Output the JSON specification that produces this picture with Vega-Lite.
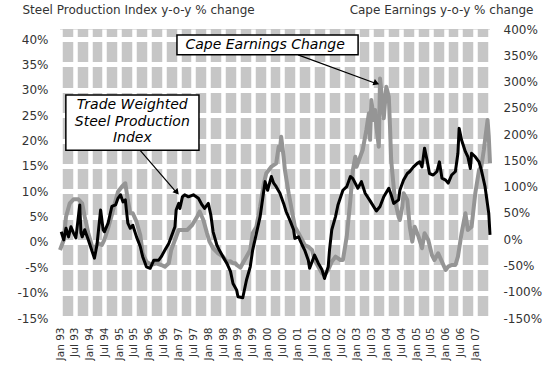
{
  "$schema": "https://vega.github.io/schema/vega-lite/v6.json",
  "width": 430,
  "height": 289,
  "autosize": "none",
  "padding": {"left": 60, "top": 29, "right": 60, "bottom": 47},
  "background": "white",
  "config": {
    "font": "DejaVu Sans",
    "view": {"fill": "#c6c6c6", "stroke": null},
    "axis": {"domain": false, "ticks": false, "labelColor": "#333", "titleColor": "#333", "labelFont": "DejaVu Sans", "titleFont": "DejaVu Sans", "titleFontWeight": "normal", "labelOverlap": false}
  },
  "datasets": {
    "steel": [
      {"date": "1993-01-16", "value": 2.0}, {"date": "1993-02-16", "value": 0.4}, {"date": "1993-03-16", "value": 2.7},
      {"date": "1993-04-16", "value": 1.0}, {"date": "1993-05-16", "value": 3.0}, {"date": "1993-06-16", "value": 1.8},
      {"date": "1993-07-16", "value": 0.8}, {"date": "1993-09-01", "value": 7.3}, {"date": "1993-09-16", "value": 1.8},
      {"date": "1993-10-01", "value": 1.0}, {"date": "1993-11-01", "value": 2.4}, {"date": "1993-12-16", "value": 0.4},
      {"date": "1994-02-01", "value": -1.9}, {"date": "1994-03-01", "value": -3.2}, {"date": "1994-04-01", "value": -0.6},
      {"date": "1994-05-01", "value": 4.0}, {"date": "1994-05-16", "value": 6.3}, {"date": "1994-06-16", "value": 2.4},
      {"date": "1994-07-01", "value": 2.0}, {"date": "1994-08-16", "value": 3.7}, {"date": "1994-10-01", "value": 7.0},
      {"date": "1994-11-16", "value": 7.3}, {"date": "1994-12-16", "value": 8.6}, {"date": "1995-01-16", "value": 9.3},
      {"date": "1995-02-16", "value": 7.9}, {"date": "1995-03-16", "value": 8.3}, {"date": "1995-04-16", "value": 3.7},
      {"date": "1995-05-16", "value": 2.7}, {"date": "1995-06-16", "value": 3.3}, {"date": "1995-08-01", "value": 1.0},
      {"date": "1995-09-16", "value": -0.9}, {"date": "1995-10-16", "value": -2.9}, {"date": "1995-12-01", "value": -4.9},
      {"date": "1996-01-16", "value": -5.2}, {"date": "1996-03-01", "value": -3.6}, {"date": "1996-05-01", "value": -3.6},
      {"date": "1996-06-01", "value": -2.9}, {"date": "1996-07-16", "value": -1.6}, {"date": "1996-09-01", "value": -0.3},
      {"date": "1996-10-01", "value": 1.0}, {"date": "1996-11-16", "value": 3.0}, {"date": "1996-12-01", "value": 6.3},
      {"date": "1997-01-01", "value": 7.6}, {"date": "1997-01-16", "value": 6.6}, {"date": "1997-02-16", "value": 8.9},
      {"date": "1997-03-16", "value": 9.3}, {"date": "1997-05-01", "value": 8.9}, {"date": "1997-07-01", "value": 9.3},
      {"date": "1997-09-01", "value": 8.6}, {"date": "1997-10-16", "value": 7.3}, {"date": "1997-11-16", "value": 6.6},
      {"date": "1998-01-01", "value": 7.6}, {"date": "1998-02-01", "value": 5.3}, {"date": "1998-03-01", "value": 2.0},
      {"date": "1998-04-16", "value": -0.6}, {"date": "1998-05-16", "value": -1.6}, {"date": "1998-07-01", "value": -2.9},
      {"date": "1998-08-16", "value": -4.2}, {"date": "1998-10-01", "value": -5.8}, {"date": "1998-11-01", "value": -8.2},
      {"date": "1998-12-16", "value": -9.5}, {"date": "1999-01-01", "value": -10.8}, {"date": "1999-02-01", "value": -10.9},
      {"date": "1999-03-01", "value": -11.0}, {"date": "1999-04-16", "value": -7.5}, {"date": "1999-06-01", "value": -4.9},
      {"date": "1999-07-01", "value": -1.6}, {"date": "1999-08-16", "value": 1.7}, {"date": "1999-10-01", "value": 5.0},
      {"date": "1999-11-16", "value": 10.2}, {"date": "1999-12-01", "value": 11.9}, {"date": "2000-01-01", "value": 10.2},
      {"date": "2000-02-16", "value": 12.9}, {"date": "2000-03-16", "value": 11.6}, {"date": "2000-04-16", "value": 10.9},
      {"date": "2000-06-01", "value": 9.6}, {"date": "2000-07-16", "value": 7.6}, {"date": "2000-08-16", "value": 6.0},
      {"date": "2000-10-01", "value": 4.3}, {"date": "2000-11-16", "value": 2.4}, {"date": "2000-12-01", "value": 0.7},
      {"date": "2001-01-16", "value": 1.0}, {"date": "2001-03-01", "value": -0.6}, {"date": "2001-04-01", "value": -1.6},
      {"date": "2001-05-16", "value": -3.6}, {"date": "2001-06-01", "value": -5.2}, {"date": "2001-08-01", "value": -2.6},
      {"date": "2001-09-16", "value": -4.2}, {"date": "2001-11-01", "value": -5.5}, {"date": "2001-12-01", "value": -7.2},
      {"date": "2002-01-16", "value": -4.9}, {"date": "2002-02-01", "value": -1.6}, {"date": "2002-03-01", "value": 2.4},
      {"date": "2002-04-16", "value": 5.0}, {"date": "2002-05-16", "value": 7.3}, {"date": "2002-07-16", "value": 10.2},
      {"date": "2002-09-01", "value": 10.9}, {"date": "2002-10-16", "value": 12.9}, {"date": "2002-11-16", "value": 12.5},
      {"date": "2003-01-16", "value": 10.6}, {"date": "2003-03-01", "value": 11.9}, {"date": "2003-04-16", "value": 9.6},
      {"date": "2003-06-16", "value": 8.1}, {"date": "2003-09-01", "value": 6.1}, {"date": "2003-10-16", "value": 7.0},
      {"date": "2003-12-01", "value": 8.9}, {"date": "2004-02-01", "value": 10.6}, {"date": "2004-03-01", "value": 9.3},
      {"date": "2004-04-01", "value": 7.6}, {"date": "2004-06-01", "value": 8.3}, {"date": "2004-06-16", "value": 10.2},
      {"date": "2004-08-01", "value": 12.2}, {"date": "2004-09-16", "value": 13.5}, {"date": "2004-10-16", "value": 13.9},
      {"date": "2004-12-01", "value": 14.8}, {"date": "2005-01-16", "value": 15.5}, {"date": "2005-02-16", "value": 15.8},
      {"date": "2005-03-16", "value": 14.8}, {"date": "2005-04-16", "value": 18.5}, {"date": "2005-05-16", "value": 16.2},
      {"date": "2005-06-16", "value": 13.5}, {"date": "2005-08-01", "value": 13.2}, {"date": "2005-09-16", "value": 13.9},
      {"date": "2005-10-16", "value": 15.8}, {"date": "2005-11-16", "value": 12.6}, {"date": "2006-01-01", "value": 12.2},
      {"date": "2006-02-01", "value": 11.6}, {"date": "2006-03-16", "value": 13.2}, {"date": "2006-05-01", "value": 13.9},
      {"date": "2006-06-01", "value": 17.5}, {"date": "2006-06-16", "value": 22.4}, {"date": "2006-07-16", "value": 20.1},
      {"date": "2006-09-01", "value": 17.8}, {"date": "2006-10-01", "value": 16.8}, {"date": "2006-11-01", "value": 14.5},
      {"date": "2006-11-16", "value": 17.5}, {"date": "2007-01-01", "value": 16.8}, {"date": "2007-02-16", "value": 15.8},
      {"date": "2007-03-16", "value": 14.2}, {"date": "2007-05-01", "value": 10.9}, {"date": "2007-06-16", "value": 5.6},
      {"date": "2007-07-01", "value": 1.4}
    ],
    "cape": [
      {"date": "1993-01-01", "value": -20.6}, {"date": "1993-02-16", "value": -1.5}, {"date": "1993-03-16", "value": 42.8},
      {"date": "1993-05-01", "value": 68.3}, {"date": "1993-06-16", "value": 75.9}, {"date": "1993-08-16", "value": 75.9},
      {"date": "1993-10-01", "value": 68.3}, {"date": "1993-11-01", "value": 42.8}, {"date": "1993-12-16", "value": 11.2},
      {"date": "1994-02-01", "value": -14.3}, {"date": "1994-03-01", "value": -17.3}, {"date": "1994-04-16", "value": -7.8},
      {"date": "1994-06-01", "value": -11.0}, {"date": "1994-07-01", "value": -1.5}, {"date": "1994-08-16", "value": 20.8},
      {"date": "1994-10-01", "value": 46.0}, {"date": "1994-11-01", "value": 65.1}, {"date": "1994-12-16", "value": 90.4},
      {"date": "1995-02-01", "value": 99.9}, {"date": "1995-03-16", "value": 106.4}, {"date": "1995-04-16", "value": 74.6},
      {"date": "1995-05-16", "value": 49.3}, {"date": "1995-06-16", "value": 49.3}, {"date": "1995-08-01", "value": 33.3},
      {"date": "1995-09-16", "value": 8.0}, {"date": "1995-10-16", "value": -26.8}, {"date": "1995-12-01", "value": -42.8},
      {"date": "1996-02-01", "value": -49.1}, {"date": "1996-04-01", "value": -45.9}, {"date": "1996-06-01", "value": -49.1},
      {"date": "1996-07-16", "value": -52.3}, {"date": "1996-09-01", "value": -45.9}, {"date": "1996-10-01", "value": -20.6},
      {"date": "1996-11-16", "value": -1.5}, {"date": "1997-01-01", "value": 17.5}, {"date": "1997-02-01", "value": 17.5},
      {"date": "1997-04-16", "value": 17.5}, {"date": "1997-06-16", "value": 27.0}, {"date": "1997-08-16", "value": 42.8},
      {"date": "1997-09-16", "value": 52.4}, {"date": "1997-11-01", "value": 36.5}, {"date": "1997-12-16", "value": 11.2},
      {"date": "1998-01-16", "value": -4.7}, {"date": "1998-03-01", "value": -17.3}, {"date": "1998-05-01", "value": -26.8},
      {"date": "1998-07-01", "value": -33.3}, {"date": "1998-08-16", "value": -42.8}, {"date": "1998-10-01", "value": -42.0},
      {"date": "1998-11-01", "value": -45.9}, {"date": "1998-12-01", "value": -45.9}, {"date": "1998-12-16", "value": -49.0},
      {"date": "1999-02-01", "value": -54.0}, {"date": "1999-03-01", "value": -45.9}, {"date": "1999-04-16", "value": -33.3},
      {"date": "1999-06-01", "value": -20.6}, {"date": "1999-07-01", "value": 11.2}, {"date": "1999-08-16", "value": 23.8},
      {"date": "1999-10-01", "value": 62.0}, {"date": "1999-11-16", "value": 106.4}, {"date": "1999-12-16", "value": 125.4},
      {"date": "2000-02-16", "value": 137.9}, {"date": "2000-04-16", "value": 144.4}, {"date": "2000-05-16", "value": 176.0},
      {"date": "2000-06-01", "value": 169.7}, {"date": "2000-06-16", "value": 195.0}, {"date": "2000-07-16", "value": 157.0},
      {"date": "2000-08-01", "value": 131.7}, {"date": "2000-09-16", "value": 87.4}, {"date": "2000-11-01", "value": 49.3},
      {"date": "2000-12-01", "value": 23.8}, {"date": "2001-01-16", "value": 11.2}, {"date": "2001-03-01", "value": -1.5},
      {"date": "2001-04-01", "value": -11.0}, {"date": "2001-05-16", "value": -14.3}, {"date": "2001-07-01", "value": -20.6},
      {"date": "2001-08-01", "value": -39.6}, {"date": "2001-09-16", "value": -52.3}, {"date": "2001-11-01", "value": -65.0},
      {"date": "2001-12-01", "value": -68.1}, {"date": "2002-01-16", "value": -58.6}, {"date": "2002-03-01", "value": -42.8},
      {"date": "2002-04-16", "value": -33.3}, {"date": "2002-06-16", "value": -39.6}, {"date": "2002-07-16", "value": -39.6},
      {"date": "2002-09-01", "value": 4.8}, {"date": "2002-10-16", "value": 74.6}, {"date": "2002-11-16", "value": 131.7},
      {"date": "2002-12-16", "value": 157.0}, {"date": "2003-01-01", "value": 138.0}, {"date": "2003-03-16", "value": 169.7},
      {"date": "2003-05-01", "value": 208.0}, {"date": "2003-06-01", "value": 239.6}, {"date": "2003-06-16", "value": 189.0},
      {"date": "2003-07-01", "value": 265.0}, {"date": "2003-08-01", "value": 227.0}, {"date": "2003-08-16", "value": 246.0},
      {"date": "2003-09-01", "value": 214.0}, {"date": "2003-10-01", "value": 176.0}, {"date": "2003-10-16", "value": 306.0},
      {"date": "2003-11-16", "value": 258.6}, {"date": "2003-12-01", "value": 230.0}, {"date": "2004-01-01", "value": 290.0},
      {"date": "2004-02-01", "value": 271.0}, {"date": "2004-02-16", "value": 214.0}, {"date": "2004-03-01", "value": 150.7},
      {"date": "2004-04-16", "value": 74.6}, {"date": "2004-06-01", "value": 42.8}, {"date": "2004-06-16", "value": 36.5},
      {"date": "2004-07-16", "value": 62.0}, {"date": "2004-08-01", "value": 87.4}, {"date": "2004-09-16", "value": 74.6},
      {"date": "2004-10-16", "value": 23.8}, {"date": "2004-11-16", "value": -4.7}, {"date": "2004-12-16", "value": 23.8},
      {"date": "2005-02-01", "value": 4.8}, {"date": "2005-03-16", "value": -17.3}, {"date": "2005-04-16", "value": 11.2},
      {"date": "2005-06-01", "value": -1.5}, {"date": "2005-07-16", "value": -30.1}, {"date": "2005-08-16", "value": -39.6},
      {"date": "2005-10-01", "value": -26.8}, {"date": "2005-11-16", "value": -42.8}, {"date": "2006-01-01", "value": -58.6},
      {"date": "2006-02-01", "value": -52.3}, {"date": "2006-03-16", "value": -49.1}, {"date": "2006-05-01", "value": -49.1},
      {"date": "2006-06-01", "value": -33.3}, {"date": "2006-07-16", "value": 11.2}, {"date": "2006-09-01", "value": 49.3},
      {"date": "2006-10-01", "value": 17.5}, {"date": "2006-11-16", "value": 23.8}, {"date": "2007-01-01", "value": 87.4},
      {"date": "2007-02-16", "value": 131.7}, {"date": "2007-03-16", "value": 137.9}, {"date": "2007-04-16", "value": 169.7},
      {"date": "2007-06-01", "value": 226.8}, {"date": "2007-06-16", "value": 195.0}, {"date": "2007-07-01", "value": 144.4}
    ]
  },
  "layer": [
    {
      "data": {"name": "cape"},
      "mark": {"type": "line", "color": "#959595", "strokeWidth": 4, "strokeJoin": "round"},
      "encoding": {
        "x": {
          "field": "date", "type": "temporal",
          "scale": {"type": "utc", "domain": [{"year": 1993, "month": 1, "date": 1, "utc": true}, {"year": 2007, "month": 7, "date": 1, "utc": true}]},
          "axis": {
            "title": null, "tickCount": {"interval": "month", "step": 6}, "grid": true, "gridColor": "white", "gridWidth": 4.5, "gridOpacity": 1,
            "labelAngle": 270, "labelPadding": 9, "labelFontSize": 10.5, "labelOverlap": false, "labelFlush": false, "labelBound": false,
            "labelExpr": "utcyear(datum.value) >= 2007 && utcmonth(datum.value) >= 6 ? '' : utcFormat(datum.value, '%b %y')"
          }
        },
        "y": {
          "field": "value", "type": "quantitative",
          "scale": {"domain": [-150, 400], "nice": false, "zero": false},
          "axis": {
            "orient": "right", "grid": false, "values": [-150, -100, -50, 0, 50, 100, 150, 200, 250, 300, 350, 400],
            "tickCount": 12, "labelOverlap": false,
            "labelExpr": "datum.value + '%'", "labelFontSize": 12, "labelPadding": 13, "labelAlign": "left",
            "title": "Cape Earnings y-o-y % change", "titleAngle": 0, "titleAlign": "right", "titleBaseline": "alphabetic",
            "titleX": 43, "titleY": -16, "titleFontSize": 12
          }
        }
      }
    },
    {
      "layer": [
        {
          "data": {"name": "steel"},
          "mark": {"type": "line", "color": "black", "strokeWidth": 3, "strokeJoin": "round"},
          "encoding": {
            "x": {"field": "date", "type": "temporal", "scale": {"type": "utc"}},
            "y": {
              "field": "value", "type": "quantitative",
              "scale": {"domain": [-15, 42], "nice": false, "zero": false},
              "axis": {
                "orient": "left", "grid": true, "gridColor": "white", "gridWidth": 5, "gridOpacity": 1,
                "values": [-15, -10, -5, 0, 5, 10, 15, 20, 25, 30, 35, 40],
                "tickCount": 12, "labelOverlap": false,
                "labelExpr": "datum.value + '%'", "labelFontSize": 12, "labelPadding": 12,
                "title": "Steel Production Index y-o-y % change", "titleAngle": 0, "titleAlign": "left", "titleBaseline": "alphabetic",
                "titleX": -38, "titleY": -16, "titleFontSize": 12
              }
            }
          }
        },
        {
          "data": {"values": [
            {"x1": "1996-12-11", "x2": "2003-01-19", "y1": 40.8, "y2": 36.9},
            {"x1": "1993-03-14", "x2": "1997-09-08", "y1": 29.0, "y2": 18.1}
          ]},
          "mark": {"type": "rect", "fill": "white", "stroke": "black", "strokeWidth": 1.5},
          "encoding": {
            "x": {"field": "x1", "type": "temporal", "scale": {"type": "utc"}},
            "x2": {"field": "x2"},
            "y": {"field": "y1", "type": "quantitative"},
            "y2": {"field": "y2"}
          }
        },
        {
          "data": {"values": [
            {"x": "1999-12-01", "y": 38.8, "label": "Cape Earnings Change"},
            {"x": "1995-06-10", "y": 27.0, "label": "Trade Weighted\nSteel Production\nIndex"}
          ]},
          "mark": {"type": "text", "font": "DejaVu Sans", "fontStyle": "italic", "fontSize": 14, "color": "black", "lineBreak": "\n", "lineHeight": 16.5, "align": "center", "baseline": "middle"},
          "encoding": {
            "x": {"field": "x", "type": "temporal", "scale": {"type": "utc"}},
            "y": {"field": "y", "type": "quantitative"},
            "text": {"field": "label"}
          }
        },
        {
          "data": {"values": [
            {"x1": "2001-01-10", "y1": 36.9, "x2": "2003-09-05", "y2": 31.2},
            {"x1": "1995-09-12", "y1": 18.1, "x2": "1996-12-15", "y2": 9.6}
          ]},
          "mark": {"type": "rule", "color": "black", "strokeWidth": 1.2},
          "encoding": {
            "x": {"field": "x1", "type": "temporal", "scale": {"type": "utc"}},
            "x2": {"field": "x2"},
            "y": {"field": "y1", "type": "quantitative"},
            "y2": {"field": "y2"}
          }
        },
        {
          "data": {"values": [{"x": "2003-09-01", "y": 31.3}]},
          "mark": {"type": "point", "shape": "triangle-right", "angle": 21, "filled": true, "color": "black", "size": 45, "opacity": 1},
          "encoding": {
            "x": {"field": "x", "type": "temporal", "scale": {"type": "utc"}},
            "y": {"field": "y", "type": "quantitative"}
          }
        },
        {
          "data": {"values": [{"x": "1996-12-10", "y": 9.8}]},
          "mark": {"type": "point", "shape": "triangle-right", "angle": 50, "filled": true, "color": "black", "size": 45, "opacity": 1},
          "encoding": {
            "x": {"field": "x", "type": "temporal", "scale": {"type": "utc"}},
            "y": {"field": "y", "type": "quantitative"}
          }
        }
      ]
    }
  ],
  "resolve": {"scale": {"y": "independent"}, "axis": {"y": "independent"}}
}
